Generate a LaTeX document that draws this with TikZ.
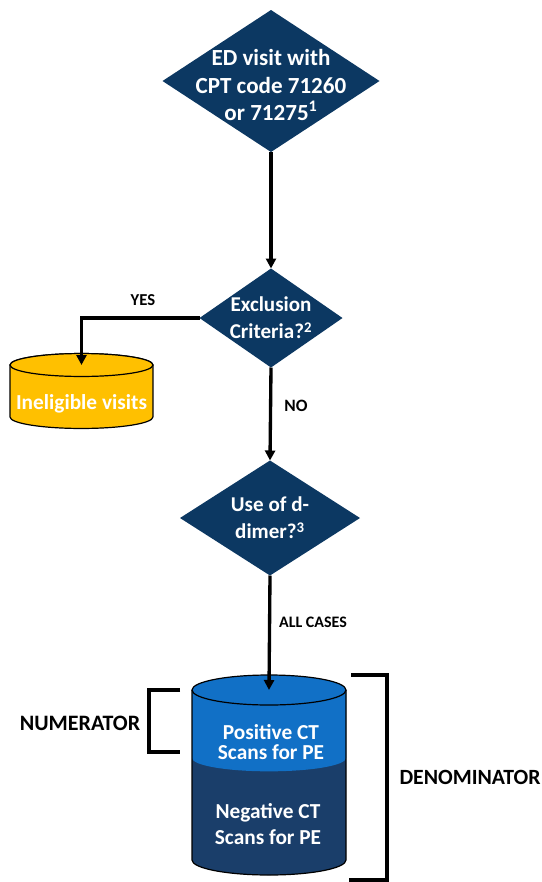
\documentclass[tikz,border=0pt]{standalone}
\usepackage{fontspec}
\setmainfont{Carlito}
\usepackage{xcolor}
\usetikzlibrary{positioning, arrows.meta, shapes.geometric}

\definecolor{decnavy}{HTML}{0C3862}
\definecolor{darkbin}{HTML}{1A3E6A}
\definecolor{lightbin}{HTML}{1170C6}
\definecolor{binyellow}{HTML}{FFC000}

\begin{document}
\begin{tikzpicture}[
    x=0.75pt, y=-0.75pt,
    decision/.style={diamond, fill=decnavy, draw=none, inner sep=0pt, outer sep=0pt},
    dectext/.style={text=white, align=center, font=\bfseries\fontsize{15.8}{20.5}\selectfont},
    bintext/.style={text=white, align=center, font=\bfseries\fontsize{16}{15}\selectfont},
    flow/.style={-{Triangle[length=7.5pt, width=7.5pt]}, line width=2.5pt},
    edge label/.style={font=\bfseries\fontsize{13}{15}\selectfont},
    bracket/.style={line width=2.5pt},
    binline/.style={draw=black, line width=0.9pt}
]
\useasboundingbox (0,0) rectangle (542,882);

% Decisions
\node[decision, minimum width=162.75pt, minimum height=106.5pt,
      label={[dectext, yshift=-3pt, font=\bfseries\fontsize{17.3}{20.5}\selectfont]center:ED visit with\\CPT code 71260\\or 71275\textsuperscript{1}}] (edvisit) at (271,81) {};
\node[decision, minimum width=107.25pt, minimum height=74.25pt,
      label={[dectext]center:Exclusion\\Criteria?\textsuperscript{2}}] (exclusion) at (271,318) {};
\node[decision, minimum width=135pt, minimum height=86.25pt,
      label={[dectext]center:Use of d-\\dimer?\textsuperscript{3}}] (ddimer) at (270,518) {};

% Ineligible bin
\filldraw[fill=binyellow, binline] (10,365) -- (10,417)
    arc[start angle=180, end angle=360, x radius=53.6pt, y radius=8.6pt]
    -- (153,365)
    arc[start angle=0, end angle=180, x radius=53.6pt, y radius=8.6pt] -- cycle;
\filldraw[fill=binyellow, binline] (81.5,365) ellipse[x radius=53.6pt, y radius=8.6pt];
\coordinate (ineligtop) at (81.5,365);
\node[bintext] (inelig) at (81.5,404) {Ineligible visits};

% CT scan bin
\fill[darkbin] (192,690) -- (192,860)
    arc[start angle=180, end angle=360, x radius=57.75pt, y radius=11.25pt]
    -- (346,690) -- cycle;
\fill[lightbin] (192,690) -- (192,758)
    arc[start angle=180, end angle=360, x radius=57.75pt, y radius=10pt]
    -- (346,690) -- cycle;
\draw[binline] (192,690) -- (192,860)
    arc[start angle=180, end angle=360, x radius=57.75pt, y radius=11.25pt]
    -- (346,690);
\filldraw[fill=lightbin, binline] (269,690) ellipse[x radius=57.75pt, y radius=11.25pt];
\coordinate (scantop) at (269,690);
\node[bintext] (positive) at (271,742) {Positive CT\\Scans for PE};
\node[bintext, font=\bfseries\fontsize{16}{19}\selectfont] (negative) at (268,824) {Negative CT\\Scans for PE};

% Connectors
\draw[flow] (edvisit.south) -- (exclusion.north);
\draw[flow] (exclusion.west) -| (ineligtop);
\draw[flow] (exclusion.south) -- (ddimer.north);
\draw[flow] (ddimer.south) -- (scantop);

\node[edge label, font=\bfseries\fontsize{12.5}{14}\selectfont] (yes) at (143,300) {YES};
\node[edge label] (no) at (296,406) {NO};
\node[edge label, font=\bfseries\fontsize{12}{14}\selectfont] (allcases) at (313,622) {ALL CASES};

% Brackets
\draw[bracket] (180,690) -- (149,690) -- (149,752) -- (180,752);
\draw[bracket] (351,675) -- (387,675) -- (387,880) -- (349,880);
\node[font=\bfseries\fontsize{16.5}{18}\selectfont] (numerator) at (80,723) {NUMERATOR};
\node[font=\bfseries\fontsize{16.3}{18}\selectfont] (denominator) at (470,777) {DENOMINATOR};

\end{tikzpicture}
\end{document}
